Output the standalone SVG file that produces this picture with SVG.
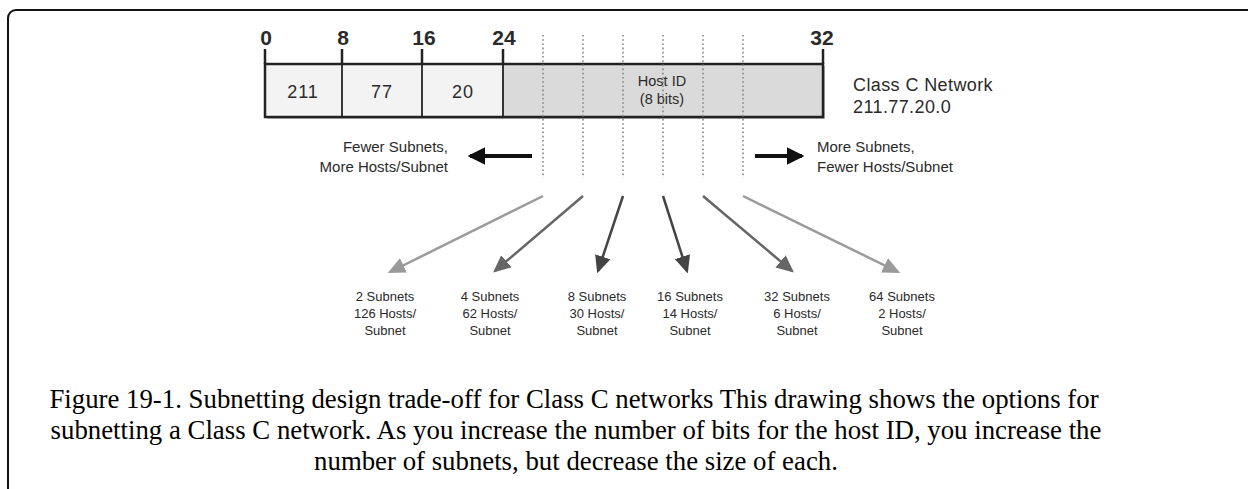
<svg xmlns="http://www.w3.org/2000/svg" width="1248" height="489" viewBox="0 0 1248 489">
<defs>
<style>
.lbl{font-family:"Liberation Sans",Arial,sans-serif;fill:#2a2a2a}
.bit{font-size:21px;font-weight:bold;text-anchor:middle}
.cell{font-size:18px;text-anchor:middle;letter-spacing:1px}
.host{font-size:14.5px;text-anchor:middle}
.side{font-size:15px}
.net{font-size:18px;letter-spacing:0.4px}
.opt{font-size:13px;text-anchor:middle}
.cap{font-family:"Liberation Serif","Times New Roman",serif;font-size:26.8px;fill:#000;text-anchor:middle}
.dot{stroke:#888;stroke-width:1.6;stroke-dasharray:1.6 2.6}
.tick{stroke:#222;stroke-width:2.5}
</style>
<marker id="ahL" markerWidth="7" markerHeight="6.4" refX="6" refY="3.2" orient="auto" markerUnits="strokeWidth"><path d="M0,0 L7,3.2 L0,6.4 Z" fill="#9a9a9a"/></marker>
<marker id="ahM" markerWidth="7" markerHeight="6.4" refX="6" refY="3.2" orient="auto" markerUnits="strokeWidth"><path d="M0,0 L7,3.2 L0,6.4 Z" fill="#666"/></marker>
<marker id="ahD" markerWidth="7" markerHeight="6.4" refX="6" refY="3.2" orient="auto" markerUnits="strokeWidth"><path d="M0,0 L7,3.2 L0,6.4 Z" fill="#444"/></marker>
<marker id="ahB" markerWidth="4.4" markerHeight="4.4" refX="3.8" refY="2.2" orient="auto" markerUnits="strokeWidth"><path d="M0,0 L4.4,2.2 L0,4.4 Z" fill="#111"/></marker>
</defs>
<rect x="8" y="10" width="1300" height="520" rx="8" fill="#fff" stroke="#111" stroke-width="2"/>

<g id="address">
<rect x="267" y="66" width="558" height="53" fill="#bbb"/>
<rect x="265" y="64" width="238" height="53" fill="#f3f3f3"/>
<rect x="503" y="64" width="320" height="53" fill="#dadada"/>
<rect x="265" y="64" width="558" height="53" fill="none" stroke="#222" stroke-width="2.5"/>
<line x1="342" y1="64" x2="342" y2="117" stroke="#222" stroke-width="1.8"/>
<line x1="422" y1="64" x2="422" y2="117" stroke="#222" stroke-width="1.8"/>
<line x1="503" y1="64" x2="503" y2="117" stroke="#222" stroke-width="1.8"/>
<line class="tick" x1="265" y1="49" x2="265" y2="64"/>
<line class="tick" x1="342" y1="49" x2="342" y2="64"/>
<line class="tick" x1="422" y1="49" x2="422" y2="64"/>
<line class="tick" x1="503" y1="49" x2="503" y2="64"/>
<line class="tick" x1="823" y1="49" x2="823" y2="64"/>
<text class="lbl bit" x="266" y="45">0</text>
<text class="lbl bit" x="343" y="45">8</text>
<text class="lbl bit" x="424" y="45">16</text>
<text class="lbl bit" x="504" y="45">24</text>
<text class="lbl bit" x="822" y="45">32</text>
<text class="lbl cell" x="303" y="98">211</text>
<text class="lbl cell" x="382" y="98">77</text>
<text class="lbl cell" x="463" y="98">20</text>
<text class="lbl host" x="662" y="86">Host ID</text>
<text class="lbl host" x="662" y="104">(8 bits)</text>
</g>

<g id="dividers">
<line class="dot" x1="543" y1="35" x2="543" y2="178"/>
<line class="dot" x1="583" y1="35" x2="583" y2="178"/>
<line class="dot" x1="623" y1="35" x2="623" y2="178"/>
<line class="dot" x1="663" y1="35" x2="663" y2="178"/>
<line class="dot" x1="703" y1="35" x2="703" y2="178"/>
<line class="dot" x1="743" y1="35" x2="743" y2="178"/>
</g>

<g id="network-label">
<text class="lbl net" x="853" y="91">Class C Network</text>
<text class="lbl net" x="853" y="113">211.77.20.0</text>
</g>

<g id="fewer-label">
<text class="lbl side" x="448" y="152" text-anchor="end">Fewer Subnets,</text>
<text class="lbl side" x="448" y="172" text-anchor="end">More Hosts/Subnet</text>
</g>
<g id="more-label">
<text class="lbl side" x="817" y="152">More Subnets,</text>
<text class="lbl side" x="817" y="172">Fewer Hosts/Subnet</text>
</g>

<g id="connectors">
<line x1="532" y1="156" x2="470" y2="156" stroke="#111" stroke-width="4" marker-end="url(#ahB)"/>
<line x1="755" y1="156" x2="802" y2="156" stroke="#111" stroke-width="4" marker-end="url(#ahB)"/>
<line x1="543" y1="196" x2="390" y2="272" stroke="#9a9a9a" stroke-width="2.5" marker-end="url(#ahL)"/>
<line x1="583" y1="196" x2="495" y2="271" stroke="#666" stroke-width="2.5" marker-end="url(#ahM)"/>
<line x1="623" y1="196" x2="598" y2="271" stroke="#444" stroke-width="2.5" marker-end="url(#ahD)"/>
<line x1="663" y1="196" x2="687" y2="271" stroke="#444" stroke-width="2.5" marker-end="url(#ahD)"/>
<line x1="703" y1="196" x2="792" y2="271" stroke="#666" stroke-width="2.5" marker-end="url(#ahM)"/>
<line x1="743" y1="196" x2="898" y2="272" stroke="#9a9a9a" stroke-width="2.5" marker-end="url(#ahL)"/>
</g>

<g id="opt2"><text class="lbl opt" x="385" y="301">2 Subnets</text><text class="lbl opt" x="385" y="318">126 Hosts/</text><text class="lbl opt" x="385" y="335">Subnet</text></g>
<g id="opt4"><text class="lbl opt" x="490" y="301">4 Subnets</text><text class="lbl opt" x="490" y="318">62 Hosts/</text><text class="lbl opt" x="490" y="335">Subnet</text></g>
<g id="opt8"><text class="lbl opt" x="597" y="301">8 Subnets</text><text class="lbl opt" x="597" y="318">30 Hosts/</text><text class="lbl opt" x="597" y="335">Subnet</text></g>
<g id="opt16"><text class="lbl opt" x="690" y="301">16 Subnets</text><text class="lbl opt" x="690" y="318">14 Hosts/</text><text class="lbl opt" x="690" y="335">Subnet</text></g>
<g id="opt32"><text class="lbl opt" x="797" y="301">32 Subnets</text><text class="lbl opt" x="797" y="318">6 Hosts/</text><text class="lbl opt" x="797" y="335">Subnet</text></g>
<g id="opt64"><text class="lbl opt" x="902" y="301">64 Subnets</text><text class="lbl opt" x="902" y="318">2 Hosts/</text><text class="lbl opt" x="902" y="335">Subnet</text></g>

<g id="caption">
<text class="cap" x="574" y="408">Figure 19-1. Subnetting design trade-off for Class C networks This drawing shows the options for</text>
<text class="cap" x="576" y="439">subnetting a Class C network. As you increase the number of bits for the host ID, you increase the</text>
<text class="cap" x="576" y="470">number of subnets, but decrease the size of each.</text>
</g>
</svg>
